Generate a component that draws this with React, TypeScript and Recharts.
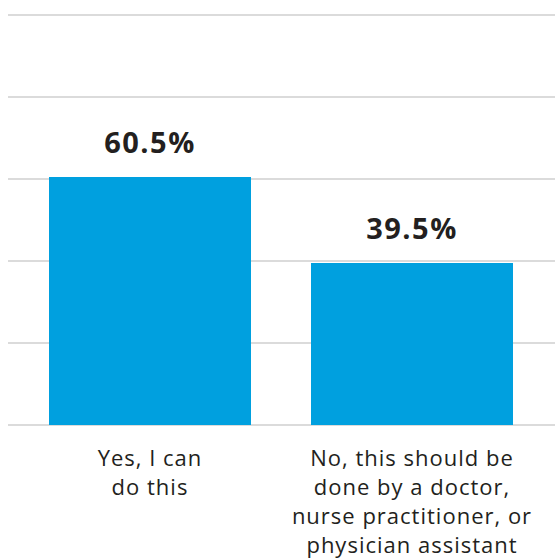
import { Bar, BarChart, CartesianGrid, LabelList, XAxis, YAxis } from "recharts"

const categories = [
  "Yes, I can\ndo this",
  "No, this should be\ndone by a doctor,\nnurse practitioner, or\nphysician assistant",
]
const shares = [60.5, 39.5]
const yTicks = [0, 20, 40, 60, 80, 100]

const data = categories.map((name, i) => ({ name, value: shares[i] }))

const FONT = "'Open Sans', Lato, sans-serif"

function WrappedTick(props: any) {
  const { x, y, payload } = props
  const lines = String(payload.value).split("\n")
  return (
    <g transform={`translate(${x},${y})`}>
      <text
        textAnchor="middle"
        fill="#231f20"
        fontSize={22}
        letterSpacing={1}
        fontFamily={FONT}
      >
        {lines.map((line, i) => (
          <tspan key={i} x={0} dy={i === 0 ? 33 : 29}>
            {line}
          </tspan>
        ))}
      </text>
    </g>
  )
}

export default function App() {
  return (
    <div style={{ position: "absolute", top: 0, left: 0, width: 555, height: 559 }}>
      <BarChart
        width={555}
        height={559}
        data={data}
        margin={{ top: 15, right: 0, bottom: 0, left: 8 }}
        barCategoryGap={30}
      >
        <CartesianGrid vertical={false} stroke="#cfcfcf" strokeWidth={1.5} />
        <XAxis
          dataKey="name"
          axisLine={false}
          tickLine={false}
          interval={0}
          height={134}
          padding={{ left: 11, right: 12 }}
          tick={<WrappedTick />}
        />
        <YAxis hide domain={[0, 100]} ticks={yTicks} />
        <Bar dataKey="value" fill="#00a0df" isAnimationActive={false}>
          <LabelList
            dataKey="value"
            position="top"
            offset={24}
            formatter={(v: any) => `${v}%`}
            fill="#231f20"
            fontSize={29}
            fontWeight={700}
            letterSpacing={1.5}
            fontFamily={FONT}
          />
        </Bar>
      </BarChart>
    </div>
  )
}
